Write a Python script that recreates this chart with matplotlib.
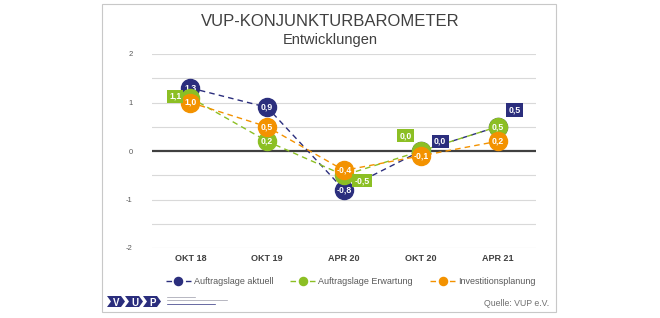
import matplotlib
matplotlib.use("Agg")
import matplotlib.pyplot as plt
from matplotlib.patches import Rectangle, Polygon
import numpy as np

categories = ["OKT 18", "OKT 19", "APR 20", "OKT 20", "APR 21"]
aktuell = [1.3, 0.9, -0.8, 0.0, 0.5]
erwartung = [1.1, 0.2, -0.5, 0.0, 0.5]
invest = [1.0, 0.5, -0.4, -0.1, 0.2]
series_names = ["Auftragslage aktuell", "Auftragslage Erwartung", "Investitionsplanung"]
yticks = [-2, -1, 0, 1, 2]

colors = ["#2B2E7D", "#8CBF24", "#F39200"]
# label placement per point: None = inside circle, else offset in points (boxed label)
label_offsets = [
    [None, None, None, (14, 7), (12, 12)],
    [(-11, 1), None, (13, -4), (-11, 11), None],
    [None, None, None, None, None],
]

plt.rcParams['font.family'] = ['Liberation Sans', 'DejaVu Sans']
fig = plt.figure(figsize=(6.6, 3.18), dpi=100)

# outer frame
fig.patches.append(Rectangle((102/660, 1-312/318), (556-102)/660, (312-4)/318,
                             transform=fig.transFigure, fill=False,
                             edgecolor="#C8C8C8", linewidth=0.8))

ax = fig.add_axes([152/660, 1-248/318, (536-152)/660, (248-54)/318])
x = np.arange(len(categories))
ax.set_xlim(-0.5, len(categories)-0.5)
ax.set_ylim(-2, 2)
for s in ax.spines.values():
    s.set_visible(False)
for yv in np.arange(-2, 2.01, 0.5):
    if yv != 0:
        ax.axhline(yv, color="#D9D9D9", linewidth=0.8, zorder=0)
ax.axhline(0, color="#404040", linewidth=1.6, zorder=1)
ax.set_yticks(yticks)
ax.set_yticklabels([str(v) for v in yticks], fontsize=5.5, color="#595959")
ax.set_xticks(x)
ax.set_xticklabels(categories, fontsize=6.5, fontweight="bold", color="#404040")
ax.tick_params(axis="both", length=0)
ax.tick_params(axis="y", pad=14)
ax.tick_params(axis="x", pad=4)

all_series = [aktuell, erwartung, invest]
handles = []
for i, (vals, name, col) in enumerate(zip(all_series, series_names, colors)):
    h, = ax.plot(x, vals, linestyle=(0, (4, 3)), color=col, linewidth=1.0,
                 marker="o", markersize=13, markerfacecolor=col,
                 markeredgecolor=col, zorder=3+i*2, label=name)
    handles.append(h)
    for j, v in enumerate(vals):
        txt = f"{v:.1f}".replace(".", ",")
        off = label_offsets[i][j]
        if off is None:
            ax.text(x[j], v, txt, ha="center", va="center", fontsize=6.3,
                    color="white", fontweight="bold", zorder=4+i*2)
        else:
            ax.annotate(txt, (x[j], v), xytext=off, textcoords="offset points",
                        ha="center", va="center", fontsize=6.3, color="white",
                        fontweight="bold", zorder=10,
                        bbox=dict(boxstyle="square,pad=0.25", facecolor=col,
                                  edgecolor="none"))

leg = fig.legend(handles=handles, labels=series_names, loc="center left",
                 bbox_to_anchor=(161/660, 1-282/318), ncol=3, frameon=False,
                 fontsize=6.5, handlelength=2.8, columnspacing=1.9,
                 handletextpad=0.3, markerscale=0.45, borderpad=0)
for t in leg.get_texts():
    t.set_color("#595959")

fig.text(0.5, 1-21/318, "VUP-KONJUNKTURBAROMETER", ha="center", va="center",
         fontsize=12, color="#404040")
fig.text(0.5, 1-40/318, "Entwicklungen", ha="center", va="center",
         fontsize=10.5, color="#404040")
fig.text(549/660, 1-304/318, "Quelle: VUP e.V.", ha="right", va="center",
         fontsize=6.3, color="#707070")

# logo approximation
navy = "#2B2E7D"
logo_y0, logo_y1 = 1-307/318, 1-296/318
ymid = (logo_y0 + logo_y1) / 2
starts = [107, 125, 143]
for sx, letter in zip(starts, ["V", "U", "P"]):
    w = 14
    pts = [(sx, logo_y1), (sx + w, logo_y1), (sx + w + 4, ymid),
           (sx + w, logo_y0), (sx, logo_y0), (sx + 4, ymid)]
    pts = [(px/660, py) for px, py in pts]
    fig.patches.append(Polygon(pts, closed=True, transform=fig.transFigure,
                               facecolor=navy, edgecolor="none"))
    fig.text((sx + 9.5)/660, ymid - 0.5/318, letter, ha="center", va="center_baseline",
             fontsize=7, fontweight="bold", color="white")
for k, lw in enumerate([28, 60, 48]):
    fig.lines.append(plt.Line2D([167/660, (167+lw)/660],
                                [1-(297+k*3.3)/318]*2, transform=fig.transFigure,
                                color="#9A9AA8" if k < 2 else navy, linewidth=0.5))

fig.savefig("out.png", dpi=100)
